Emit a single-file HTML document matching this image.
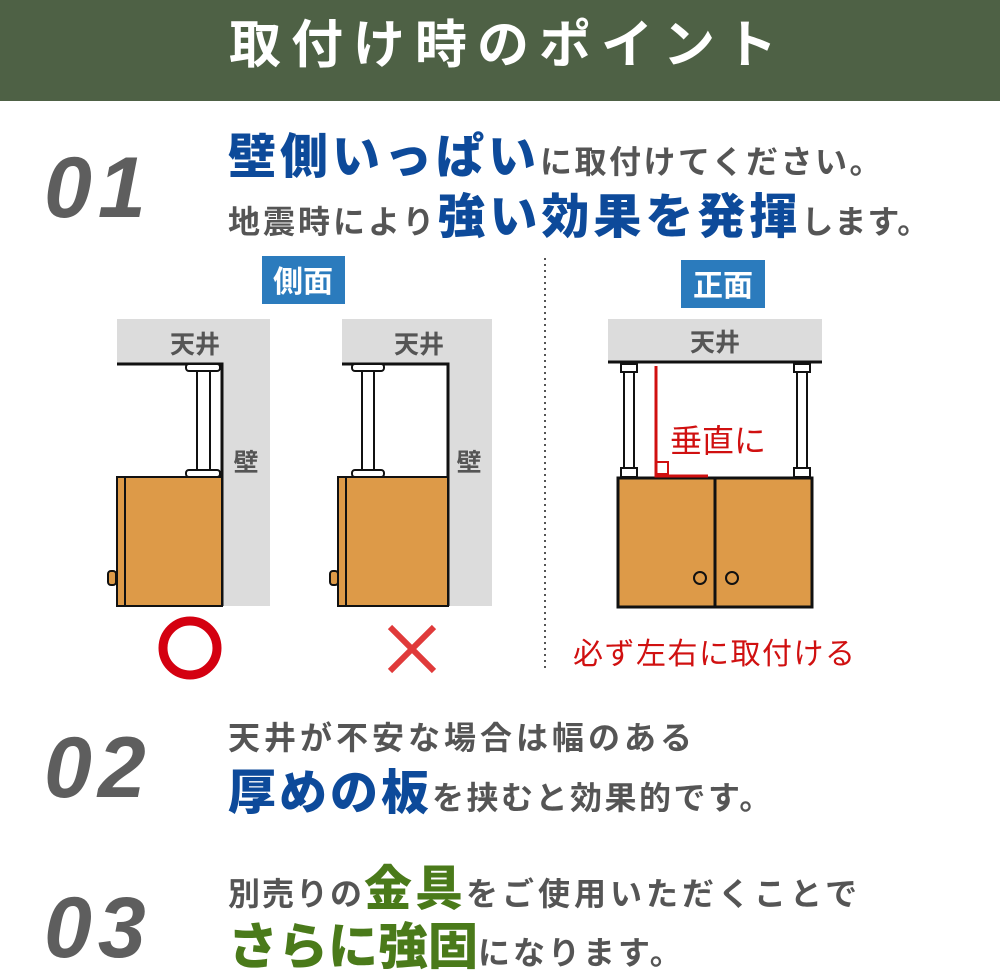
<!DOCTYPE html>
<html><head><meta charset="utf-8"><style>
body{margin:0;width:1000px;height:976px;position:relative;background:#fff;overflow:hidden;font-family:"Liberation Sans","Noto Sans CJK JP",sans-serif;}
.t{position:absolute;white-space:nowrap;line-height:1;}
.g{color:#555;font-weight:bold;}
.b{color:#0d4a9a;font-weight:900;}
.gr{color:#4a7a1a;font-weight:900;}
.n{position:absolute;color:#5e5e5e;font-style:italic;font-weight:bold;font-size:86px;letter-spacing:6px;font-family:"Liberation Sans",sans-serif;line-height:1;}
</style></head><body>
<div style="position:absolute;left:0;top:0;width:1000px;height:101px;background:#4e6145"></div>
<div class="t" style="left:8px;width:1000px;text-align:center;top:20px;color:#fff;font-size:52px;font-weight:bold;letter-spacing:10px">取付け時のポイント</div>

<div class="n" style="left:44px;top:145px">01</div>
<div class="t" style="left:228px;top:134px"><span class="b" style="font-size:48px;letter-spacing:4px">壁側いっぱい</span><span class="g" style="font-size:32px;letter-spacing:2.5px">に取付けてください。</span></div>
<div class="t" style="left:228px;top:194px"><span class="g" style="font-size:32px;letter-spacing:3px">地震時により</span><span class="b" style="font-size:48px;letter-spacing:4px">強い効果を発揮</span><span class="g" style="font-size:32px;letter-spacing:1px">します。</span></div>

<svg width="1000" height="976" style="position:absolute;left:0;top:0">
<rect x="262" y="256" width="83" height="48" fill="#2b7bbd"/>
<text x="303" y="292" font-size="30" font-weight="bold" fill="#fff" text-anchor="middle" font-family="Noto Sans CJK JP">側面</text>
<rect x="681" y="260" width="84" height="48" fill="#2b7bbd"/>
<text x="723" y="296" font-size="30" font-weight="bold" fill="#fff" text-anchor="middle" font-family="Noto Sans CJK JP">正面</text>

<rect x="117" y="319" width="153" height="287" fill="#dcdcdc"/>
<rect x="117" y="364" width="105" height="113" fill="#fff"/>
<path d="M117 364H222V606" stroke="#111" stroke-width="3" fill="none"/>
<rect x="197" y="368" width="13" height="105" fill="#fff" stroke="#111" stroke-width="2"/>
<rect x="186" y="364" width="34" height="7" rx="3" fill="#fff" stroke="#111" stroke-width="2"/>
<rect x="186" y="470" width="34" height="7" rx="3" fill="#fff" stroke="#111" stroke-width="2"/>
<rect x="117" y="477" width="105" height="129" fill="#dd9a48" stroke="#111" stroke-width="2"/>
<line x1="125" y1="477" x2="125" y2="606" stroke="#111" stroke-width="2"/>
<rect x="108" y="571" width="8" height="14" rx="3" fill="#dd9a48" stroke="#111" stroke-width="2"/>
<text x="195" y="353" font-size="25" font-weight="bold" fill="#555" text-anchor="middle" font-family="Noto Sans CJK JP">天井</text>
<text x="246" y="471" font-size="25" font-weight="bold" fill="#555" text-anchor="middle" font-family="Noto Sans CJK JP">壁</text>

<rect x="342" y="319" width="150" height="287" fill="#dcdcdc"/>
<rect x="342" y="364" width="106" height="113" fill="#fff"/>
<path d="M342 364H448V606" stroke="#111" stroke-width="3" fill="none"/>
<rect x="362" y="368" width="12" height="105" fill="#fff" stroke="#111" stroke-width="2"/>
<rect x="352" y="364" width="32" height="7" rx="3" fill="#fff" stroke="#111" stroke-width="2"/>
<rect x="352" y="470" width="32" height="7" rx="3" fill="#fff" stroke="#111" stroke-width="2"/>
<rect x="338" y="477" width="110" height="129" fill="#dd9a48" stroke="#111" stroke-width="2"/>
<line x1="346" y1="477" x2="346" y2="606" stroke="#111" stroke-width="2"/>
<rect x="330" y="571" width="8" height="14" rx="3" fill="#dd9a48" stroke="#111" stroke-width="2"/>
<text x="419" y="353" font-size="25" font-weight="bold" fill="#555" text-anchor="middle" font-family="Noto Sans CJK JP">天井</text>
<text x="469" y="471" font-size="25" font-weight="bold" fill="#555" text-anchor="middle" font-family="Noto Sans CJK JP">壁</text>

<circle cx="190" cy="648" r="27" fill="none" stroke="#d40010" stroke-width="9"/>
<path d="M390 627L434 671M434 627L390 671" stroke="#e03a3a" stroke-width="6"/>

<line x1="545" y1="258" x2="545" y2="670" stroke="#555" stroke-width="2" stroke-dasharray="2 4"/>

<rect x="608" y="319" width="214" height="43" fill="#dcdcdc"/>
<line x1="608" y1="362" x2="822" y2="362" stroke="#111" stroke-width="3"/>
<text x="715" y="351" font-size="25" font-weight="bold" fill="#555" text-anchor="middle" font-family="Noto Sans CJK JP">天井</text>
<rect x="624" y="370" width="10" height="100" fill="#fff" stroke="#111" stroke-width="2"/>
<rect x="621" y="364" width="16" height="8" fill="#fff" stroke="#111" stroke-width="2"/>
<rect x="621" y="468" width="16" height="9" fill="#fff" stroke="#111" stroke-width="2"/>
<rect x="797" y="370" width="10" height="100" fill="#fff" stroke="#111" stroke-width="2"/>
<rect x="794" y="364" width="16" height="8" fill="#fff" stroke="#111" stroke-width="2"/>
<rect x="794" y="468" width="16" height="9" fill="#fff" stroke="#111" stroke-width="2"/>
<rect x="618" y="478" width="194" height="129" fill="#dd9a48" stroke="#111" stroke-width="3"/>
<line x1="715" y1="478" x2="715" y2="607" stroke="#111" stroke-width="3"/>
<circle cx="700" cy="578" r="6" fill="none" stroke="#111" stroke-width="2"/>
<circle cx="732" cy="578" r="6" fill="none" stroke="#111" stroke-width="2"/>
<path d="M656 366V476H708" stroke="#d01010" stroke-width="3" fill="none"/>
<rect x="656" y="462" width="12" height="12" fill="none" stroke="#d01010" stroke-width="2"/>
<text x="670" y="452" font-size="32" fill="#d01010" font-family="Noto Sans CJK JP">垂直に</text>
<text x="573" y="664" font-size="30" letter-spacing="1.5" fill="#d01010" font-family="Noto Sans CJK JP">必ず左右に取付ける</text>
</svg>

<div class="n" style="left:44px;top:725px">02</div>
<div class="t g" style="left:228px;top:722px;font-size:32px;letter-spacing:4px">天井が不安な場合は幅のある</div>
<div class="t" style="left:228px;top:770px"><span class="b" style="font-size:48px;letter-spacing:3px">厚めの板</span><span class="g" style="font-size:32px;letter-spacing:2.5px">を挟むと効果的です。</span></div>

<div class="n" style="left:44px;top:885px">03</div>
<div class="t" style="left:228px;top:866px"><span class="g" style="font-size:32px;letter-spacing:2px">別売りの</span><span class="gr" style="font-size:48px;letter-spacing:3px">金具</span><span class="g" style="font-size:32px;letter-spacing:4px">をご使用いただくことで</span></div>
<div class="t" style="left:228px;top:922px"><span class="gr" style="font-size:50px">さらに強固</span><span class="g" style="font-size:32px;letter-spacing:3px">になります。</span></div>
</body></html>
